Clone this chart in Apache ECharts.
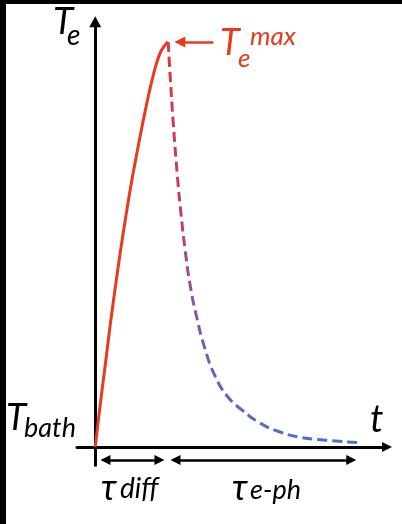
<!DOCTYPE html>
<html>
<head>
<meta charset="utf-8">
<script src="https://cdn.jsdelivr.net/npm/echarts@6/dist/echarts.min.js"></script>
<style>
html,body{margin:0;padding:0;background:#fff;}
#c{width:402px;height:524px;}
</style>
</head>
<body>
<div id="c"></div>
<script>
// time in units of tau_diff, temperature normalised: 0 = T_bath, 1 = T_e^max
var riseT  = [0, 0.068, 0.137, 0.205, 0.274, 0.342, 0.411, 0.479, 0.548, 0.616, 0.685, 0.753, 0.822, 0.890, 0.945, 1.0];
var riseTe = [0, 0.104, 0.202, 0.301, 0.393, 0.479, 0.560, 0.635, 0.704, 0.768, 0.830, 0.886, 0.936, 0.973, 0.990, 1.0];
var decayT  = [1.0, 1.027, 1.068, 1.123, 1.178, 1.233, 1.301, 1.384, 1.507, 1.644, 1.808, 2.014, 2.260, 2.534, 2.808, 3.151, 3.589];
var decayTe = [1.0, 0.917, 0.804, 0.676, 0.572, 0.486, 0.400, 0.326, 0.241, 0.175, 0.126, 0.091, 0.059, 0.037, 0.024, 0.017, 0.011];
// interval arrows (start, end) and level
var tauDiffSpan = [0.14, 0.88];
var tauEphSpan  = [1.10, 3.51];
var spanLevel   = -0.032;
var maxArrow    = [1.62, 1.16];
var maxLevel    = 1.0;

function pairs(a, b){ return a.map(function(v,i){ return [v, b[i]]; }); }

var red = '#E63B1F';
var chart = echarts.init(document.getElementById('c'), null, {renderer:'canvas'});
var FONT = 'Lato, "Noto Sans", "DejaVu Sans", sans-serif';

function txt(x, y, s, size, color){
  return {type:'text', x:x, y:y, style:{text:s, font:'italic ' + size + 'px ' + FONT, fill:color||'#000', textAlign:'left', textVerticalAlign:'middle'}};
}

chart.setOption({
  animation:false,
  backgroundColor:'#fff',
  grid:{left:77, right:15, top:21.75, bottom:58.75},
  xAxis:{type:'value', min:-0.25, max:4.0,
    axisLine:{show:true, onZero:true, symbol:['none','triangle'], symbolSize:[10,10], lineStyle:{color:'#000', width:3}},
    axisTick:{show:false}, axisLabel:{show:false}, splitLine:{show:false}},
  yAxis:{type:'value', min:-0.045, max:1.05,
    axisLine:{show:true, onZero:true, symbol:['none','triangle'], symbolSize:[12,11], lineStyle:{color:'#000', width:3}},
    axisTick:{show:false}, axisLabel:{show:false}, splitLine:{show:false}},
  series:[
    {type:'line', data:pairs(riseT, riseTe), smooth:0.3, showSymbol:false, z:3,
     lineStyle:{color:red, width:3}},
    {type:'line', data:pairs(decayT, decayTe), smooth:0.5, showSymbol:false, z:3,
     lineStyle:{width:3, type:[10,5],
       color:{type:'linear', x:0, y:0, x2:1, y2:1, colorStops:[
         {offset:0, color:'#E0383A'},{offset:0.3, color:'#CC3A5A'},
         {offset:0.55, color:'#8E52A0'},{offset:0.8, color:'#5C6AC2'},{offset:1, color:'#4A72CC'}]}}},
    {type:'lines', coordinateSystem:'cartesian2d', z:4,
     symbol:['triangle','triangle'], symbolSize:10,
     lineStyle:{color:'#000', width:2.5, opacity:1},
     data:[
       {coords:[[tauDiffSpan[0], spanLevel],[tauDiffSpan[1], spanLevel]]},
       {coords:[[tauEphSpan[0], spanLevel],[tauEphSpan[1], spanLevel]]}
     ]},
    {type:'lines', coordinateSystem:'cartesian2d', z:4,
     symbol:['none','triangle'], symbolSize:11,
     lineStyle:{color:red, width:2.5, opacity:1},
     data:[{coords:[[maxArrow[0], maxLevel],[maxArrow[1], maxLevel]]}]}
  ],
  graphic:[
    {type:'rect', shape:{x:0,y:0,width:402,height:4}, style:{fill:'#000'}},
    {type:'rect', shape:{x:0,y:0,width:6,height:524}, style:{fill:'#000'}},
    txt(53, 22, 'T', 37),
    txt(67, 36, 'e', 28),
    txt(6, 418, 'T', 37),
    txt(24, 428, 'bath', 27),
    txt(370, 420, 't', 38),
    txt(220, 43, 'T', 36, red),
    txt(238, 59, 'e', 26, red),
    txt(250, 37, 'max', 26, red),
    txt(101, 488, 'τ', 36),
    txt(120, 489, 'diff', 28),
    txt(232, 488, 'τ', 36),
    txt(250, 490, 'e-ph', 27)
  ]
});
</script>
</body>
</html>
